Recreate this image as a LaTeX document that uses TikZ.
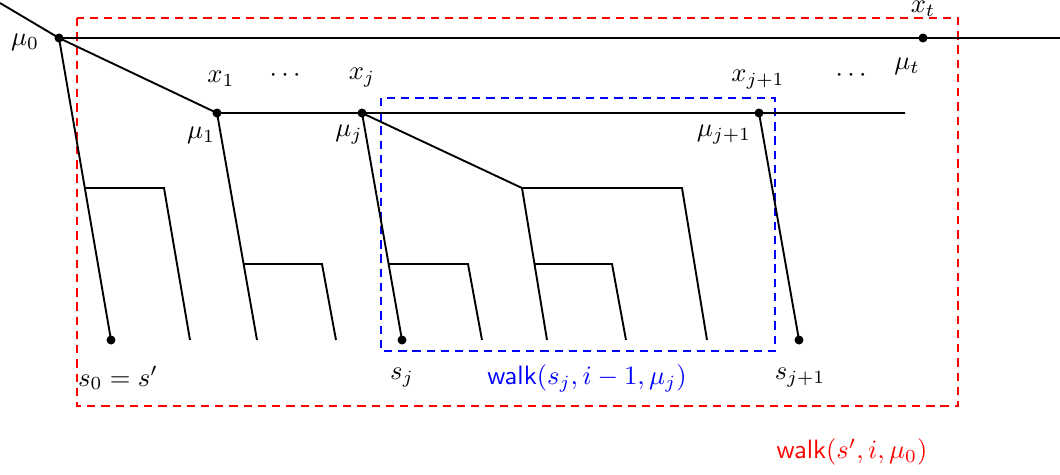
\documentclass[tikz,border=0pt]{standalone}
\usetikzlibrary{calc}
\begin{document}
\begin{tikzpicture}[x=0.4219pt,y=-0.4219pt,
  edge/.style={line width=0.8pt,black},
  pt/.style={circle,fill=black,inner sep=0pt,minimum size=3.8pt},
  lbl/.style={inner sep=0pt,scale=1.12},
  redbox/.style={draw=red,line width=0.8pt,dash pattern=on 3.5pt off 2.5pt},
  bluebox/.style={draw=blue,line width=0.8pt,dash pattern=on 3.5pt off 2.5pt}]
\useasboundingbox (0,0) rectangle (1060,474);
% boxes
\draw[redbox] (77,18) rectangle (958,406);
\draw[bluebox] (381,98) rectangle (775,351);
% coordinates
\coordinate (start) at (0,3);
\coordinate (mu0) at (59,38);
\coordinate (topend) at (1060,38);
\coordinate (mut) at (923,38);
\coordinate (mu1) at (217,113);
\coordinate (midend) at (905,113);
\coordinate (muj) at (362,113);
\coordinate (muj1) at (759,113);
\coordinate (s0) at (111,340);
\coordinate (sj) at (402,340);
\coordinate (sj1) at (799,340);
\coordinate (a1) at (85,188);
\coordinate (a2) at (164,188);
\coordinate (a3) at (190,340);
\coordinate (b0) at (257,340);
\coordinate (b1) at (244,264);
\coordinate (b2) at (322,264);
\coordinate (b3) at (336,340);
\coordinate (c1) at (389,264);
\coordinate (c2) at (468,264);
\coordinate (c3) at (482,340);
\coordinate (d1) at (522,188);
\coordinate (d2) at (682,188);
\coordinate (d3) at (707,340);
\coordinate (d0) at (547,340);
\coordinate (e1) at (535,264);
\coordinate (e2) at (612,264);
\coordinate (e3) at (626,340);
% black lines
\draw[edge] (start) -- (mu0) -- (topend);
\draw[edge] (mu0) -- (mu1) -- (midend);
\draw[edge] (mu0) -- (s0);
\draw[edge] (a1) -- (a2) -- (a3);
\draw[edge] (mu1) -- (b0);
\draw[edge] (b1) -- (b2) -- (b3);
\draw[edge] (muj) -- (sj);
\draw[edge] (c1) -- (c2) -- (c3);
\draw[edge] (muj) -- (d1) -- (d2) -- (d3);
\draw[edge] (d1) -- (d0);
\draw[edge] (e1) -- (e2) -- (e3);
\draw[edge] (muj1) -- (sj1);
% dots
\foreach \p in {mu0,mut,mu1,muj,muj1,s0,sj,sj1} \node[pt] at (\p) {};
% labels
\node[lbl] (lmu0) at (25,42) {$\mu_0$};
\node[lbl] (lx1) at (221,79) {$x_1$};
\node[lbl] (lmu1) at (201,135) {$\mu_1$};
\node[lbl] (ld1) at (285,76) {$\cdots$};
\node[lbl] (lxj) at (362,78) {$x_j$};
\node[lbl] (lmuj) at (349,135) {$\mu_j$};
\node[lbl] (lxj1) at (758,80) {$x_{j+1}$};
\node[lbl] (lmuj1) at (724,135) {$\mu_{j+1}$};
\node[lbl] (ld2) at (851,76) {$\cdots$};
\node[lbl] (lxt) at (923,9) {$x_t$};
\node[lbl] (lmut) at (907,66) {$\mu_t$};
\node[lbl] (ls0) at (118,378) {$s_0=s'$};
\node[lbl] (lsj) at (402,378) {$s_j$};
\node[lbl,text=blue] (lwj) at (587,378) {$\textsf{walk}(s_j,i-1,\mu_j)$};
\node[lbl] (lsj1) at (800,378) {$s_{j+1}$};
\node[lbl,text=red] (lw0) at (852,452) {$\textsf{walk}(s',i,\mu_0)$};
\end{tikzpicture}
\end{document}
